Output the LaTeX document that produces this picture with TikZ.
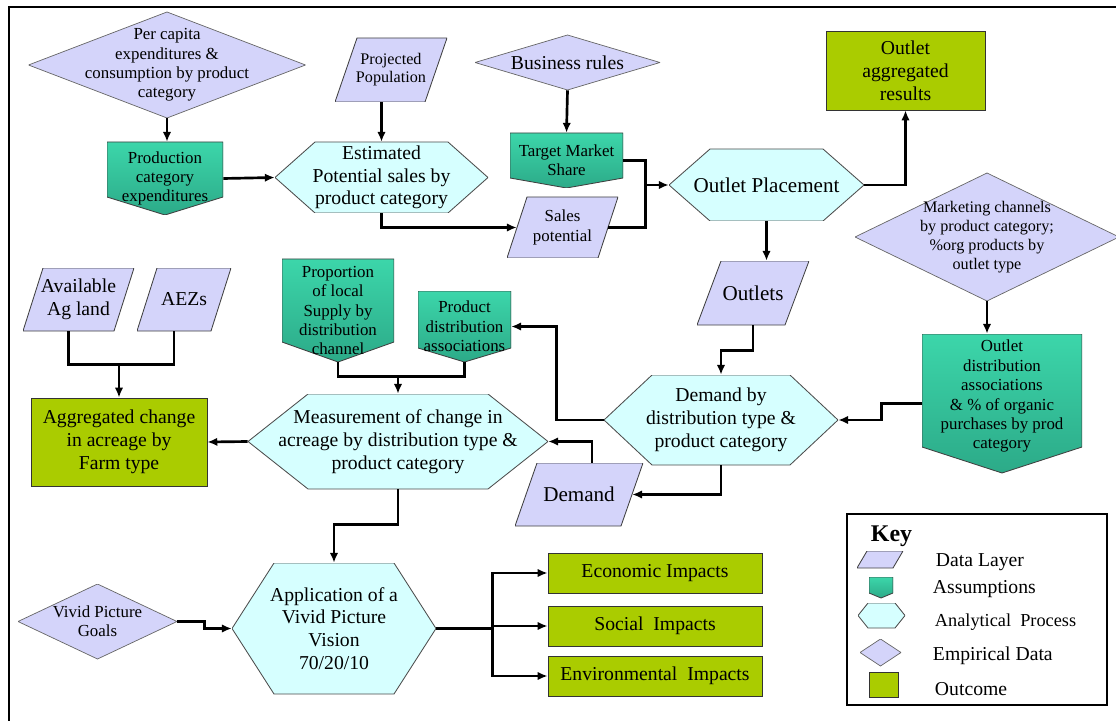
\documentclass[tikz,border=0pt]{standalone}
\usepackage{fontspec}
\setmainfont{Liberation Serif}
\usetikzlibrary{calc,arrows.meta}

\definecolor{layerfill}{RGB}{212,212,250}
\definecolor{procfill}{RGB}{214,255,255}
\definecolor{outfill}{RGB}{170,204,0}
\definecolor{asstop}{RGB}{60,214,170}
\definecolor{assbot}{RGB}{44,170,136}
\newcommand{\ppb}{path picture bounding box}

\begin{document}
\begin{tikzpicture}[x=0.025cm,y=-0.025cm,
  dims/.style 2 args={minimum width=#1*0.025cm,minimum height=#2*0.025cm,inner sep=1pt,align=center},
  smalltext/.style={font=\fontsize{12}{13.8}\selectfont},
  bigtext/.style={font=\fontsize{14}{16.2}\selectfont},
  keytext/.style={anchor=west,font=\fontsize{14}{16}\selectfont},
  layer/.style={path picture={\filldraw[fill=layerfill,draw=black!75,line width=0.6pt]
    (\ppb.south west) -- ($(\ppb.north west)+(#1,0)$) -- (\ppb.north east) -- ($(\ppb.south east)-(#1,0)$) -- cycle;}},
  empirical/.style={path picture={\filldraw[fill=layerfill,draw=black!60,line width=0.5pt]
    (\ppb.west) -- (\ppb.north) -- (\ppb.east) -- (\ppb.south) -- cycle;}},
  process/.style={path picture={\filldraw[fill=procfill,draw=black!70,line width=0.6pt]
    (\ppb.west) -- ($(\ppb.north west)+(#1,0)$) -- ($(\ppb.north east)-(#1,0)$) -- (\ppb.east)
    -- ($(\ppb.south east)-(#1,0)$) -- ($(\ppb.south west)+(#1,0)$) -- cycle;}},
  assume/.style={path picture={\shadedraw[top color=asstop,bottom color=assbot,draw=black!75,line width=0.6pt]
    (\ppb.north west) -- (\ppb.north east) -- ($(\ppb.south east)-(0,#1)$) -- (\ppb.south)
    -- ($(\ppb.south west)-(0,#1)$) -- cycle;}},
  outcome/.style={draw=black!80,fill=outfill,line width=0.6pt},
  wire/.style={line width=1.9pt},
  link/.style={wire,-{Latex[length=7pt,width=6pt]}}]
\useasboundingbox (0,0) rectangle (1116,721);
\draw[line width=2pt] (9,721) -- (9,7) -- (1116,7);

% top row
\node[empirical,dims={277}{106},smalltext] (percap) at (167,65) {Per capita\\expenditures \&\\consumption by product\\category};
\node[assume=18,dims={116}{73},smalltext] (prodexp) at (165,178.5) {Production\\category\\expenditures};
\node[layer=22,dims={112}{64},font=\fontsize{11.5}{12.8}\selectfont] (projpop) at (391,70) {Projected\\Population};
\node[process=40,dims={213}{71},bigtext] (estsales) at (381.5,177.5) {Estimated\\Potential sales by\\product category};
\node[empirical,dims={185}{55},bigtext] (busrules) at (567.5,62.5) {Business rules};
\node[assume=10,dims={113}{55},smalltext] (target) at (566.5,160.5) {Target Market\\Share};
\node[layer=20,dims={111}{61},smalltext] (salespot) at (562.5,227.5) {Sales\\potential};
\node[process=41,dims={195}{72},font=\fontsize{15}{18}\selectfont] (outplace) at (766.5,185) {Outlet Placement};
\node[outcome,dims={159}{79},bigtext] (outagg) at (905.5,70.5) {Outlet\\aggregated\\results};
\node[empirical,dims={264}{128},font=\fontsize{11.5}{13.5}\selectfont] (mktchan) at (987,237) {Marketing channels\\by product category;\\\%org products by\\outlet type};

% middle
\node[layer=24,dims={112}{64},font=\fontsize{15}{18}\selectfont] (outlets) at (753,293) {Outlets};
\node[process=48,dims={234}{90},bigtext] (demdist) at (721,420) {Demand by\\distribution type \&\\product category};
\node[assume=26,dims={160}{139},smalltext] (outdist) at (1002,403.5) {Outlet\\distribution\\associations\\\& \% of organic\\purchases by prod\\category\\[-1pt]};
\node[layer=22,dims={128}{63},font=\fontsize{15}{18}\selectfont] (demand) at (579,494.5) {Demand};
\node[process=60,dims={300}{95},bigtext] (measure) at (398,441.5) {Measurement of change in\\acreage by distribution type \&\\product category};
\node[assume=20,dims={112}{103},smalltext] (propsup) at (338,310.5) {Proportion\\of local\\Supply by\\distribution\\channel};
\node[assume=14,dims={93}{71},smalltext] (proddist) at (464.5,326.5) {Product\\distribution\\associations};
\node[layer=20,dims={111}{63},bigtext] (agland) at (78.5,299.5) {Available\\Ag land};
\node[layer=20,dims={94}{63},bigtext] (aezs) at (184,299.5) {AEZs};
\node[outcome,dims={176}{88},bigtext] (aggchg) at (119,442) {Aggregated change\\in acreage by\\Farm type};

% bottom
\node[empirical,dims={159}{75},smalltext] (vivid) at (97.5,621.5) {Vivid Picture\\Goals};
\node[process=42,dims={204}{131},bigtext] (applic) at (334,628.5) {Application of a\\Vivid Picture\\Vision\\70/20/10};
\node[outcome,dims={214}{40},bigtext] (econ) at (655,573) {Economic Impacts};
\node[outcome,dims={214}{40},bigtext] (social) at (655,626) {Social\ \ Impacts};
\node[outcome,dims={214}{40},bigtext] (enviro) at (655,676) {Environmental\ \ Impacts};

% key
\draw[line width=2pt] (847,514) rectangle (1107,705);
\node[anchor=west,font=\bfseries\fontsize{17}{20}\selectfont] (keyhead) at (866,536) {Key};
\node[layer=10,dims={46}{17}] (klayer) at (880,559.5) {};
\node[assume=5,dims={24}{21}] (kassume) at (881,587.5) {};
\node[process=10,dims={47}{25}] (kprocess) at (881.5,615.5) {};
\node[empirical,dims={41}{27}] (kempir) at (880.5,652.5) {};
\node[outcome,dims={29}{25}] (koutcome) at (883.5,684.5) {};
\node[keytext] (tlayer) at (931,562) {Data Layer};
\node[keytext] (tassume) at (928,589) {Assumptions};
\node[keytext,font=\fontsize{13}{15}\selectfont] (tprocess) at (930,622) {Analytical\ \ Process};
\node[keytext] (tempir) at (928,656) {Empirical Data};
\node[keytext] (toutcome) at (930,689) {Outcome};

% connectors
\draw[link] (percap.south) -- (percap.south |- prodexp.north);
\draw[link] (prodexp.east) -- (estsales.west);
\draw[link] (estsales.north |- projpop.south) -- (estsales.north);
\draw[link] (estsales.south) |- ($(salespot.west)+(10,0)$);
\draw[link] (busrules.south) -- (target.north);
\coordinate (jt) at ($(outplace.west)+(-23,0)$);
\draw[wire] (target.east) -| (jt);
\draw[wire] ($(salespot.east)-(10,0)$) -| (jt);
\draw[link] (jt) -- (outplace.west);
\draw[link] (outplace.east) -| (outagg.south);
\draw[link] (outplace.south) -- (outplace.south |- outlets.north);
\draw[link] (outlets.south) -- ++(0,25) -| (demdist.north);
\draw[link] (mktchan.south) -- (mktchan.south |- outdist.north);
\draw[link] (outdist.west) -- ++(-40,0) |- (demdist.east);
\draw[link] (demdist.west) -- ++(-47,0) |- (proddist.east);
\draw[link] (demdist.south) |- ($(demand.east)-(11,0)$);
\draw[link] ($(demand.north)+(13,0)$) |- (measure.east);
\coordinate (jp) at ($(measure.north)+(0,-17)$);
\draw[wire] (propsup.south) |- (jp) -| (proddist.south);
\draw[link] (jp) -- (measure.north);
\draw[link] (measure.west) -- (aggchg.east);
\coordinate (ja) at ($(aggchg.north)+(0,-33)$);
\draw[wire] ($(agland.south)-(10,0)$) |- (ja) -| ($(aezs.south)-(10,0)$);
\draw[link] (ja) -- (aggchg.north);
\draw[link] (measure.south) -- ++(0,35) -| (applic.north);
\draw[link] (vivid.east) -- ++(27,0) |- (applic.west);
\coordinate (ji) at ($(applic.east)+(56,0)$);
\draw[wire] (applic.east) -- (ji);
\foreach \n in {econ,social,enviro}
  \draw[link] (ji) |- (\n.west);
\end{tikzpicture}
\end{document}
